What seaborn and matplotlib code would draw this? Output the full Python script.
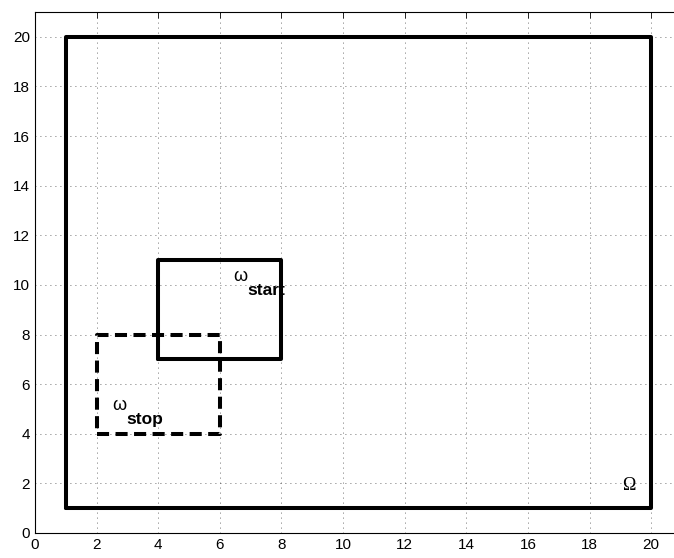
import pandas as pd
import matplotlib
matplotlib.use("Agg")
import matplotlib.pyplot as plt
import seaborn as sns

# rectangle corners (closed paths)
omega_x = [1, 20, 20, 1, 1]
omega_y = [1, 1, 20, 20, 1]
start_x = [4, 8, 8, 4, 4]
start_y = [7, 7, 11, 11, 7]
stop_x = [2, 6, 6, 2, 2]
stop_y = [4, 4, 8, 8, 4]

ticks = list(range(0, 21, 2))

sns.set_style("white")
plt.rcParams['font.family'] = ['Liberation Sans', 'DejaVu Sans']
plt.rcParams['text.color'] = 'black'

fig = plt.figure(figsize=(6.74, 5.58), dpi=100)
ax = fig.add_axes([35 / 674, 25 / 558, 647 / 674, 521 / 558])

for xs, ys, ls in [(omega_x, omega_y, '-'), (start_x, start_y, '-'), (stop_x, stop_y, '--')]:
    df = pd.DataFrame({"x": xs, "y": ys})
    sns.lineplot(data=df, x="x", y="y", sort=False, estimator=None, color='black',
                 lw=2.9, ls=ls, ax=ax, dashes=False)
ax.lines[-1].set_dashes([3, 1.6])

ax.set_xlim(0, 21)
ax.set_ylim(0, 21)
ax.set_xticks(ticks)
ax.set_yticks(ticks)
ax.set_xlabel("")
ax.set_ylabel("")
ax.grid(True, color='black', lw=0.6, alpha=0.75, dashes=(1, 5))
ax.tick_params(direction='in', length=4, width=0.6, labelsize=11, top=True, right=True,
               colors='black', labelcolor='black')
for s in ax.spines.values():
    s.set_color('black')
    s.set_linewidth(0.8)

ax.text(6.45, 10.15, 'ω', fontsize=13, ha='left', va='baseline')
ax.text(6.9, 9.6, 'start', fontsize=12.5, fontweight='bold', ha='left', va='baseline')
ax.text(2.5, 4.95, 'ω', fontsize=13, ha='left', va='baseline')
ax.text(2.95, 4.4, 'stop', fontsize=12.5, fontweight='bold', ha='left', va='baseline')
ax.text(19.05, 1.75, 'Ω', fontsize=13, family=['Liberation Serif', 'DejaVu Serif'],
        ha='left', va='baseline')

fig.savefig("out.png", dpi=100)
